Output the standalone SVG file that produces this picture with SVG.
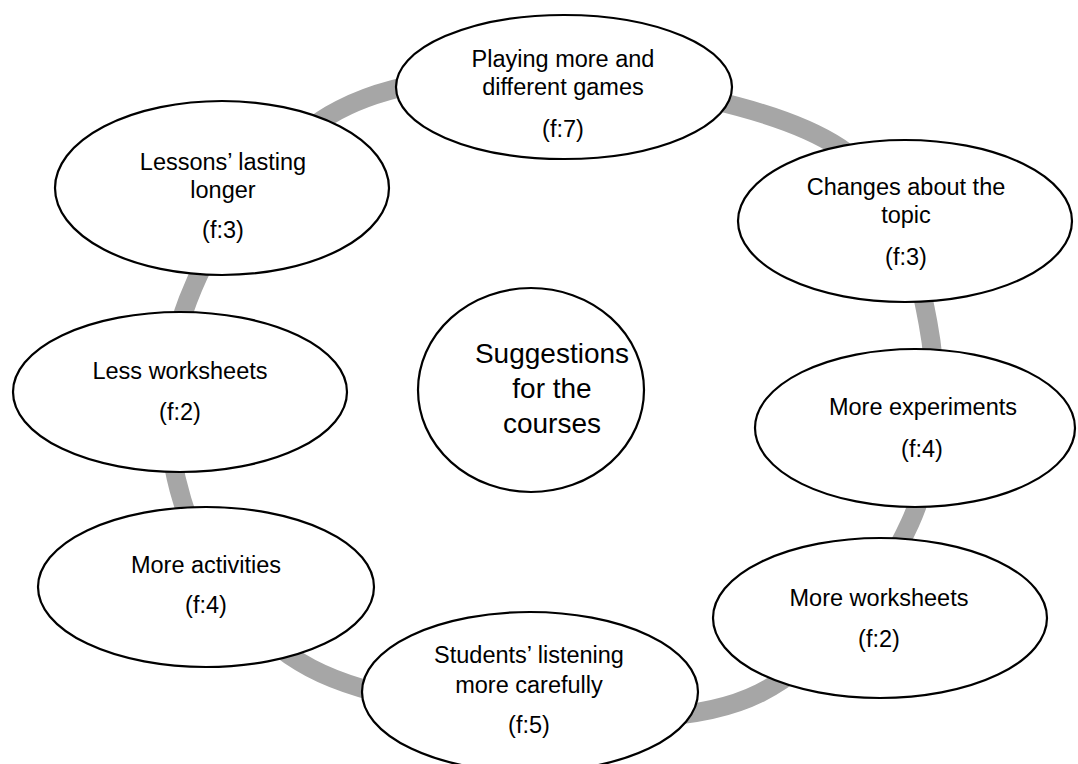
<svg xmlns="http://www.w3.org/2000/svg" width="1078" height="764" viewBox="0 0 1078 764">
<style>
.node ellipse{fill:#fff;stroke:#000;stroke-width:2.2}
text{font-family:"Liberation Sans",Arial,sans-serif;font-size:23.5px;fill:#000;text-anchor:middle}
.big{font-size:28px}
.ring{fill:none;stroke:#a6a6a6;stroke-width:19}
</style>
<rect width="1078" height="764" fill="#fff"/>
<g id="connectors">
<path class="ring" d="M330,115 C392.5,78 478,72.5 563,78 C648,83.5 779.2,107.2 840,148 C900.8,188.8 916.3,260.5 928,323 C939.7,385.5 938,461.3 910,523 C882,584.7 823.3,661.2 760,693 C696.7,724.8 606.7,719.2 530,714 C453.3,708.8 358,697.7 300,662 C242,626.3 200.7,560.3 182,500 C163.3,439.7 163.3,364.2 188,300 C212.7,235.8 267.5,152 330,115 Z"/>
</g>
<g id="n-games" class="node">
<ellipse cx="564" cy="87" rx="168" ry="72"/>
<text x="563" y="67">Playing more and</text>
<text x="563" y="95">different games</text>
<text x="563" y="137">(f:7)</text>
</g>
<g id="n-lessons" class="node">
<ellipse cx="222" cy="188" rx="167" ry="87"/>
<text x="223" y="170">Lessons’ lasting</text>
<text x="223" y="198">longer</text>
<text x="223" y="238">(f:3)</text>
</g>
<g id="n-topic" class="node">
<ellipse cx="905" cy="221" rx="167" ry="81"/>
<text x="906" y="195">Changes about the</text>
<text x="906" y="223">topic</text>
<text x="906" y="265">(f:3)</text>
</g>
<g id="n-lessws" class="node">
<ellipse cx="180" cy="392" rx="167" ry="80"/>
<text x="180" y="379">Less worksheets</text>
<text x="180" y="420">(f:2)</text>
</g>
<g id="n-center" class="node">
<ellipse cx="531" cy="390" rx="113" ry="102"/>
<text class="big" x="552" y="363">Suggestions</text>
<text class="big" x="552" y="398">for the</text>
<text class="big" x="552" y="433">courses</text>
</g>
<g id="n-experiments" class="node">
<ellipse cx="915" cy="428" rx="160" ry="79"/>
<text x="923" y="415">More experiments</text>
<text x="922" y="457">(f:4)</text>
</g>
<g id="n-activities" class="node">
<ellipse cx="206" cy="587" rx="168" ry="80"/>
<text x="206" y="573">More activities</text>
<text x="206" y="613">(f:4)</text>
</g>
<g id="n-morews" class="node">
<ellipse cx="880" cy="618" rx="167" ry="80"/>
<text x="879" y="606">More worksheets</text>
<text x="879" y="647">(f:2)</text>
</g>
<g id="n-listening" class="node">
<ellipse cx="530" cy="692" rx="168" ry="80"/>
<text x="529" y="663">Students’ listening</text>
<text x="529" y="693">more carefully</text>
<text x="529" y="733">(f:5)</text>
</g>
</svg>
